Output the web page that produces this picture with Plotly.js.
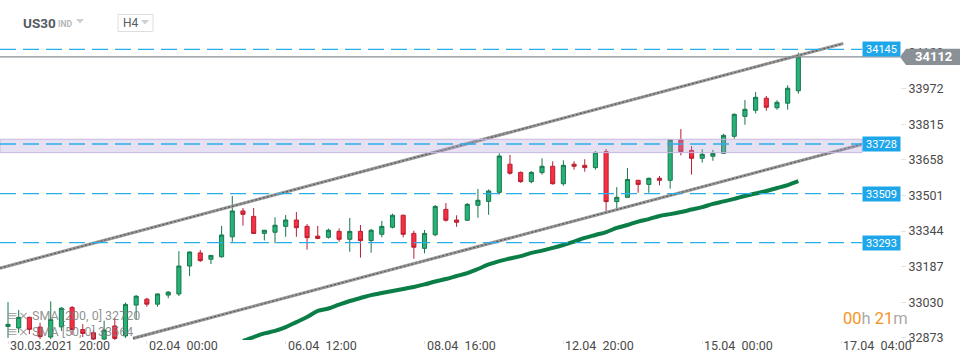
<!DOCTYPE html>
<html><head><meta charset="utf-8">
<script src="https://cdn.plot.ly/plotly-3.0.1.min.js"></script>
<style>html,body{margin:0;padding:0;background:#fff}#chart{width:970px;height:364px}</style>
</head><body><div id="chart"></div>
<script>
// ---- data ----
const openV  = [32924,32917,32964,32921,32877,32922,33007,32910,32896,32868,
                32926,32882,33018,33044,33022,33062,33067,33190,33248,33220,
                33231,33319,33433,33409,33334,33339,33365,33393,33365,33322,
                33317,33343,33308,33343,33302,33330,33361,33414,33334,33268,
                33328,33440,33393,33392,33458,33475,33515,33639,33603,33562,
                33602,33630,33553,33639,33634,33624,33694,33474,33493,33568,
                33550,33577,33568,33746,33700,33665,33674,33687,33762,33850,
                33877,33930,33888,33908,33963];
const highV  = [33031,32996,32967,32940,33034,33009,33014,32934,32908,32949,
                32961,33029,33062,33050,33069,33080,33256,33254,33261,33238,
                33367,33499,33446,33446,33349,33405,33415,33428,33375,33367,
                33355,33356,33402,33371,33354,33389,33421,33417,33346,33349,
                33459,33468,33414,33468,33530,33528,33687,33680,33607,33609,
                33665,33652,33656,33652,33661,33697,33706,33538,33622,33570,
                33580,33587,33748,33794,33719,33705,33702,33773,33863,33922,
                33957,33940,33921,33987,34131];
const lowV   = [32873,32895,32890,32868,32868,32904,32886,32877,32860,32864,
                32864,32873,32956,33011,33011,33048,33058,33146,33208,33199,
                33227,33297,33368,33331,33303,33290,33319,33319,33262,33309,
                33311,33297,33253,33227,33249,33317,33356,33316,33222,33246,
                33322,33386,33363,33389,33403,33416,33506,33593,33557,33555,
                33593,33549,33544,33615,33606,33615,33428,33445,33490,33513,
                33513,33546,33531,33678,33593,33646,33654,33684,33751,33813,
                33863,33875,33879,33879,33950];
const closeV = [32933,32964,32911,32879,32955,33004,32910,32893,32868,32908,
                32871,33021,33057,33022,33067,33075,33190,33252,33214,33237,
                33327,33433,33418,33334,33348,33370,33393,33359,33315,33312,
                33348,33308,33343,33302,33348,33365,33414,33330,33273,33334,
                33453,33392,33383,33462,33480,33521,33675,33599,33562,33603,
                33630,33553,33634,33630,33624,33691,33474,33493,33572,33550,
                33577,33568,33746,33694,33665,33683,33687,33766,33859,33881,
                33934,33890,33912,33974,34112];
const sma50Start = 22;
const sma50 = [32860,32877,32893,32904,32921,32943,32965,32992,33003,33020,
               33036,33049,33062,33071,33080,33089,33098,33109,33122,33133,
               33146,33159,33177,33197,33212,33223,33234,33248,33258,33270,
               33283,33298,33314,33327,33340,33358,33371,33386,33397,33411,
               33419,33428,33439,33450,33464,33475,33486,33499,33510,33521,
               33534,33547,33564];
const xTickIdx   = [0, 13, 26, 39, 52, 65, 78];
const xTickText  = ['30.03.2021\u00a0\u00a020:00','02.04\u00a0\u00a000:00','06.04\u00a0\u00a012:00',
                    '08.04\u00a0\u00a016:00','12.04\u00a0\u00a020:00','15.04\u00a0\u00a000:00','17.04\u00a0\u00a004:00'];
const yTickVals  = [32873,33030,33187,33344,33501,33658,33815,33972,34129];
const levelVals  = [34145, 33728, 33509, 33293];
const zoneRange  = [33690, 33749];
const lastPrice  = 34112;
const channelUpperX = [-0.75, 78.2],  channelUpperY = [33181, 34171];
const channelLowerX = [11.7, 80.06],  channelLowerY = [32871, 33728];
const sma200Label = 'SMA [200, 0] 32720';
const sma50Label  = 'SMA [50, 0] 33564';

// ---- build ----
const idx = openV.map((_, i) => i);
const smaX = sma50.map((_, i) => sma50Start + i);

const W = 970, PT = 28, PB = 340, PH = PB - PT;
const Y0 = 32864, Y1 = 34239.5;
const px = v => v / W;               // pixel x -> paper x
const py = v => (PB - v) / PH;       // pixel y -> paper y
const vy = v => (v - Y0) / (Y1 - Y0); // value -> paper y
const plotRight = 862;

const traces = [
  {type:'scatter', mode:'lines', x:channelUpperX, y:channelUpperY, line:{color:'#9a9a9a', width:3.2}, hoverinfo:'skip'},
  {type:'scatter', mode:'lines', x:channelUpperX, y:channelUpperY, line:{color:'#5a5a5a', width:1.2, dash:'2px,2px'}, hoverinfo:'skip'},
  {type:'scatter', mode:'lines', x:channelLowerX, y:channelLowerY, line:{color:'#9a9a9a', width:3.2}, hoverinfo:'skip'},
  {type:'scatter', mode:'lines', x:channelLowerX, y:channelLowerY, line:{color:'#5a5a5a', width:1.2, dash:'2px,2px'}, hoverinfo:'skip'},
  {type:'scatter', mode:'lines', x:smaX, y:sma50, line:{color:'#0b7d47', width:4, shape:'spline'}, hoverinfo:'skip'},
  {type:'candlestick', x:idx, open:openV, high:highV, low:lowV, close:closeV, whiskerwidth:0,
   increasing:{line:{color:'#16784b', width:1}, fillcolor:'#27b27a'},
   decreasing:{line:{color:'#b81f31', width:1}, fillcolor:'#f62f42'}, hoverinfo:'skip'}
];

const shapes = [];
shapes.push({type:'rect', xref:'paper', yref:'y', x0:0, x1:px(plotRight), y0:zoneRange[0], y1:zoneRange[1],
  fillcolor:'rgba(178,158,218,0.32)', line:{color:'#c6b8e2', width:1}, layer:'above'});
levelVals.forEach(v => shapes.push({type:'line', xref:'paper', yref:'y', x0:0, x1:px(plotRight), y0:v, y1:v,
  line:{color:'#2aaeea', width:1.3, dash:'16px,7px'}, layer:'above'}));
shapes.push({type:'line', xref:'paper', yref:'paper', x0:0, x1:px(900), y0:vy(lastPrice), y1:vy(lastPrice),
  line:{color:'#8a8f93', width:1.2}, layer:'above'});
// last price marker (arrow tag)
shapes.push({type:'path', xref:'paper', yref:'paper', xsizemode:'pixel', ysizemode:'pixel',
  xanchor:px(900), yanchor:vy(lastPrice), path:'M0,0 L6,8.2 L60,8.2 L60,-8.2 L6,-8.2 Z',
  fillcolor:'#899196', line:{width:0}, layer:'above'});
// H4 box
shapes.push({type:'rect', xref:'paper', yref:'paper', x0:px(118), x1:px(153), y0:py(31.5), y1:py(14.5),
  line:{color:'#dedede', width:1}, fillcolor:'rgba(0,0,0,0)'});
[[80,21],[145,22]].forEach(([cx,cy]) => shapes.push({type:'path', xref:'paper', yref:'paper',
  path:`M${px(cx-4)},${py(cy-2)} L${px(cx+4)},${py(cy-2)} L${px(cx)},${py(cy+2.5)} Z`,
  fillcolor:'#cfcfcf', line:{width:0}}));

const F = 'Roboto, "Open Sans", sans-serif';
const annotations = [];
const note = (o) => annotations.push(Object.assign({showarrow:false, xref:'paper', yref:'paper', xanchor:'left', yanchor:'middle'}, o));
xTickIdx.forEach((t, k) => annotations.push({x:t, xref:'x', y:0, yref:'paper', yanchor:'top', xanchor:'left',
  text:xTickText[k], showarrow:false, font:{family:F, size:12.5, color:'#4a4a4a'}, yshift:4, xshift:0}));
levelVals.forEach(v => note({x:px(plotRight), y:vy(v), text:String(v), bgcolor:'#1ea6ea', width:37, height:14,
  borderpad:0, font:{family:F, size:11, color:'#ffffff'}}));
note({x:px(933), xanchor:'center', y:vy(lastPrice), text:'<b>'+lastPrice+'</b>', font:{family:F, size:13, color:'#ffffff'}});
// header
note({x:px(21), y:py(23), text:'<b>US30</b>', font:{family:F, size:13.5, color:'#555b61'}});
note({x:px(56), y:py(24), text:'<b>IND</b>', font:{family:F, size:8.5, color:'#b3b7bb'}});
note({x:px(121), y:py(23), text:'H4', font:{family:F, size:12, color:'#555b61'}});
// countdown
note({x:px(841), y:py(318.5), text:'<span style="color:#f7931e">00</span>h <span style="color:#f7931e">21</span>m',
  font:{family:F, size:16.5, color:'#a9a9a9'}});
// indicator legend
note({x:px(5), y:py(315.5), text:'\u2261\u00d7', font:{family:'DejaVu Sans', size:13, color:'rgba(140,140,140,0.8)'}});
note({x:px(5), y:py(331.5), text:'\u2261\u00d7', font:{family:'DejaVu Sans', size:13, color:'rgba(140,140,140,0.8)'}});
note({x:px(30), y:py(315.5), text:sma200Label, font:{family:F, size:12.5, color:'rgba(125,125,125,0.85)'}});
note({x:px(30), y:py(331.5), text:sma50Label, font:{family:F, size:12.5, color:'rgba(125,125,125,0.85)'}});

const layout = {
  width:970, height:364, margin:{l:0, r:0, t:PT, b:364-PB},
  paper_bgcolor:'#ffffff', plot_bgcolor:'#ffffff', showlegend:false, boxgap:0.45,
  xaxis:{domain:[0, px(plotRight)], range:[-0.75, 79.96], showgrid:false, zeroline:false, showline:false,
    tickvals:xTickIdx, showticklabels:false, ticks:'outside', ticklen:3, tickcolor:'#e2e2e2',
    rangeslider:{visible:false}, fixedrange:true},
  yaxis:{side:'right', anchor:'free', position:px(900), range:[Y0, Y1], showgrid:false, zeroline:false,
    showline:false, tickvals:yTickVals, ticktext:yTickVals.map(String), ticks:'outside', ticklen:5, tickcolor:'#e4e4e4',
    tickfont:{family:F, size:12.5, color:'#4a4a4a'}, fixedrange:true},
  shapes, annotations
};
Plotly.newPlot('chart', traces, layout, {displayModeBar:false, staticPlot:true});
</script></body></html>
